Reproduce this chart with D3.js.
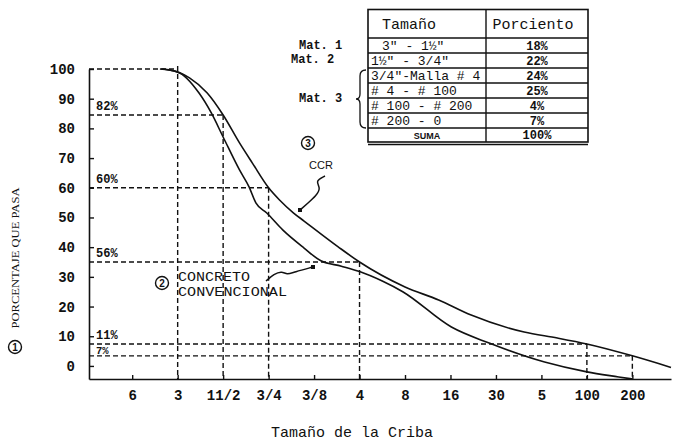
<!DOCTYPE html>
<html>
<head>
<meta charset="utf-8">
<script src="https://cdn.jsdelivr.net/npm/d3@7"></script>
<style>
  body { margin: 0; background: #fff; }
  text { fill: #111; }
</style>
</head>
<body>
<div id="chart"></div>
<script>
// sieve sizes along the x axis, one tick each (index 0 = 6")
const sieveLabels = ["6", "3", "11/2", "3/4", "3/8", "4", "8", "16", "30", "5", "100", "200"];
const yTicks = [0, 10, 20, 30, 40, 50, 60, 70, 80, 90, 100];

// CCR curve (x = sieve position, y = % que pasa)
const ccrX = [0.66, 0.82, 1.26, 1.65, 2, 2.36, 2.64, 3, 3.24, 3.55, 3.78, 4.53, 5, 6, 6.74, 7.44, 8.62, 9.35, 10, 11, 11.85];
const ccrY = [100, 99.7, 97, 91.9, 84.5, 75.1, 68.4, 60, 55.9, 51.5, 48.8, 40.1, 35, 26.6, 22.2, 17.2, 11.4, 9.4, 7.4, 3.4, -0.5];

// concreto convencional curve
const convX = [0.61, 1, 1.47, 1.74, 2, 2.36, 2.57, 2.72, 2.96, 3.31, 3.78, 4.15, 4.6, 5, 5.5, 5.95, 7.02, 7.85, 9.07, 10, 10.7, 11];
const convY = [100, 99, 91.9, 85.2, 77.1, 66, 60.3, 54.9, 51.5, 45.8, 39.7, 35.4, 33.6, 31.8, 28.6, 25, 13.1, 7.7, 1.3, -2, -3.7, -4.4];

// dashed reference lines: level, sieve where it stops, label
const refValues = [100, 84.5, 60, 35, 7.4, 3.4];
const refSieve = [1, 2, 3, 5, 10, 11];
const refLabels = ["", "82%", "60%", "56%", "11%", "7%"];

// gradation table
const tableHeader = ["Tamaño", "Porciento"];
const tableSizes = ["3\" - 1½\"", "1½\" - 3/4\"", "3/4\"-Malla # 4", "# 4 - # 100", "# 100 - # 200", "# 200 - 0", "SUMA"];
const tablePct = ["18%", "22%", "24%", "25%", "4%", "7%", "100%"];

const width = 673, height = 446;
const mono = "'Liberation Mono', 'DejaVu Sans Mono', monospace";

const svg = d3.select("#chart").append("svg")
  .attr("width", width)
  .attr("height", height);

const x = d3.scaleLinear().domain([-0.95, 11.85]).range([89, 671]);
const y = d3.scaleLinear().domain([-4.4, 100]).range([379, 69]);

// dashed reference grid
const dash = svg.append("g")
  .attr("fill", "none")
  .attr("stroke", "#111")
  .attr("stroke-width", 1.4)
  .attr("stroke-dasharray", "5,3");

refValues.forEach((v, i) => {
  dash.append("line")
    .attr("x1", x(-0.95)).attr("x2", x(refSieve[i]))
    .attr("y1", y(v)).attr("y2", y(v));
  dash.append("line")
    .attr("x1", x(refSieve[i])).attr("x2", x(refSieve[i]))
    .attr("y1", i === 0 ? y(v) - 3 : y(v)).attr("y2", y(-4.4));
  if (refLabels[i]) {
    // the last label sits just above its own line, tight under the one before
    const last = i === refValues.length - 1;
    svg.append("text")
      .attr("x", 96)
      .attr("y", last ? y(v) - 1.5 : y(v) - 5)
      .attr("font-family", mono)
      .attr("font-size", last ? 10.5 : 12)
      .attr("font-weight", "bold")
      .text(refLabels[i]);
  }
});

// axes
const yAxis = svg.append("g")
  .attr("transform", "translate(" + x(-0.95) + ",0)")
  .call(d3.axisLeft(y).tickValues(yTicks).tickSizeInner(-5).tickSizeOuter(0).tickPadding(14));

const xAxis = svg.append("g")
  .attr("transform", "translate(0," + y(-4.4) + ")")
  .call(d3.axisBottom(x).tickValues(d3.range(sieveLabels.length))
    .tickFormat(i => sieveLabels[i]).tickSizeInner(-4).tickSizeOuter(0).tickPadding(11));

[yAxis, xAxis].forEach(g => {
  g.select(".domain").attr("stroke", "#111").attr("stroke-width", 1.6);
  g.selectAll(".tick line").attr("stroke", "#111").attr("stroke-width", 1.4);
  g.selectAll(".tick text")
    .attr("font-family", mono)
    .attr("font-size", 14)
    .attr("font-weight", "bold")
    .attr("fill", "#111");
});

// curves
const line = d3.line()
  .x(d => x(d[0]))
  .y(d => y(d[1]))
  .curve(d3.curveMonotoneX);

[[ccrX, ccrY], [convX, convY]].forEach(([xs, ys]) => {
  svg.append("path")
    .datum(xs.map((v, i) => [v, ys[i]]))
    .attr("d", line)
    .attr("fill", "none")
    .attr("stroke", "#111")
    .attr("stroke-width", 1.6);
});

// circled numbers
function circled(cx, cy, n) {
  svg.append("circle").attr("cx", cx).attr("cy", cy).attr("r", 6.5)
    .attr("fill", "none").attr("stroke", "#111").attr("stroke-width", 1.4);
  svg.append("text").attr("x", cx).attr("y", cy + 4)
    .attr("text-anchor", "middle")
    .attr("font-family", "'Liberation Sans', sans-serif")
    .attr("font-size", 10).attr("font-weight", "bold")
    .text(n);
}

// squiggly pointer with a small square tip
const squiggle = d3.line().curve(d3.curveBasis);
function pointer(pts) {
  svg.append("path").attr("d", squiggle(pts))
    .attr("fill", "none").attr("stroke", "#111").attr("stroke-width", 1.5);
  const tip = pts[pts.length - 1];
  svg.append("rect").attr("x", tip[0] - 2).attr("y", tip[1] - 2)
    .attr("width", 4).attr("height", 4).attr("fill", "#111");
}

// CCR annotation
circled(308, 143, 3);
svg.append("text").attr("x", 321).attr("y", 169)
  .attr("text-anchor", "middle")
  .attr("font-family", "'Liberation Sans', sans-serif")
  .attr("font-size", 11)
  .text("CCR");
pointer([[325, 176], [315, 181], [321, 188], [316, 196], [308, 203], [300, 210]]);

// concreto convencional annotation
circled(162, 283, 2);
svg.append("text").attr("x", 178).attr("y", 281)
  .attr("font-family", mono).attr("font-size", 13)
  .attr("textLength", 72).attr("lengthAdjust", "spacingAndGlyphs")
  .text("CONCRETO");
svg.append("text").attr("x", 178).attr("y", 296)
  .attr("font-family", mono).attr("font-size", 13)
  .attr("textLength", 109).attr("lengthAdjust", "spacingAndGlyphs")
  .text("CONVENCIONAL");
pointer([[266, 281], [274, 274], [282, 271], [287, 275], [294, 272], [313, 267]]);

// y axis title
circled(15, 347, 1);
svg.append("text")
  .attr("transform", "translate(19,258) rotate(-90)")
  .attr("text-anchor", "middle")
  .attr("font-family", "'Liberation Serif', serif")
  .attr("font-size", 10)
  .attr("textLength", 141)
  .attr("lengthAdjust", "spacingAndGlyphs")
  .text("PORCENTAJE QUE PASA");

// x axis title
svg.append("text")
  .attr("x", 352).attr("y", 437)
  .attr("text-anchor", "middle")
  .attr("font-family", mono).attr("font-size", 15)
  .text("Tamaño de la Criba");

// table
const tbl = svg.append("g");
const tLeft = 368, tMid = 486, tRight = 588;
const rowTop = [9.5, 38, 53, 68, 83, 98, 113, 128];
const tBottom = 142;

tbl.append("rect")
  .attr("x", tLeft).attr("y", rowTop[0])
  .attr("width", tRight - tLeft).attr("height", tBottom - rowTop[0])
  .attr("fill", "none").attr("stroke", "#111").attr("stroke-width", 1.6);
tbl.append("line")
  .attr("x1", tLeft).attr("x2", tRight).attr("y1", tBottom + 2.5).attr("y2", tBottom + 2.5)
  .attr("stroke", "#111").attr("stroke-width", 1.4);
tbl.append("line")
  .attr("x1", tMid).attr("x2", tMid).attr("y1", rowTop[0]).attr("y2", tBottom)
  .attr("stroke", "#111").attr("stroke-width", 1.4);
rowTop.slice(1).forEach(r => {
  tbl.append("line")
    .attr("x1", tLeft).attr("x2", tRight).attr("y1", r).attr("y2", r)
    .attr("stroke", "#111").attr("stroke-width", 1.4);
});

tbl.append("text").attr("x", 409).attr("y", 29)
  .attr("text-anchor", "middle")
  .attr("font-family", mono).attr("font-size", 15)
  .text(tableHeader[0]);
tbl.append("text").attr("x", 533).attr("y", 29)
  .attr("text-anchor", "middle")
  .attr("font-family", mono).attr("font-size", 15)
  .text(tableHeader[1]);

tableSizes.forEach((s, i) => {
  const top = rowTop[i + 1];
  const bottom = i + 2 < rowTop.length ? rowTop[i + 2] : tBottom;
  const cy = (top + bottom) / 2;
  const last = i === tableSizes.length - 1;
  tbl.append("text")
    .attr("x", last ? (tLeft + tMid) / 2 : (i === 0 ? 382 : 371))
    .attr("y", cy + 4)
    .attr("text-anchor", last ? "middle" : "start")
    .attr("font-family", last ? "'Liberation Sans', sans-serif" : mono)
    .attr("font-size", last ? 9 : 13)
    .attr("font-weight", last ? "bold" : "normal")
    .text(s);
  tbl.append("text")
    .attr("x", (tMid + tRight) / 2)
    .attr("y", cy + 4)
    .attr("text-anchor", "middle")
    .attr("font-family", mono)
    .attr("font-size", 12)
    .attr("font-weight", "bold")
    .text(tablePct[i]);
});

// material labels and brace
const matText = [["Mat.  1", 299, 49], ["Mat.  2", 291, 63], ["Mat.  3", 299, 102]];
matText.forEach(([t, tx, ty]) => {
  svg.append("text").attr("x", tx).attr("y", ty)
    .attr("font-family", mono).attr("font-size", 12)
    .attr("font-weight", "bold")
    .text(t);
});
svg.append("path")
  .attr("d", "M366,70 Q360,70 360,76 L360,94 Q360,99 356,99 Q360,99 360,104 L360,122 Q360,128 366,128")
  .attr("fill", "none").attr("stroke", "#111").attr("stroke-width", 1.3);
</script>
</body>
</html>
